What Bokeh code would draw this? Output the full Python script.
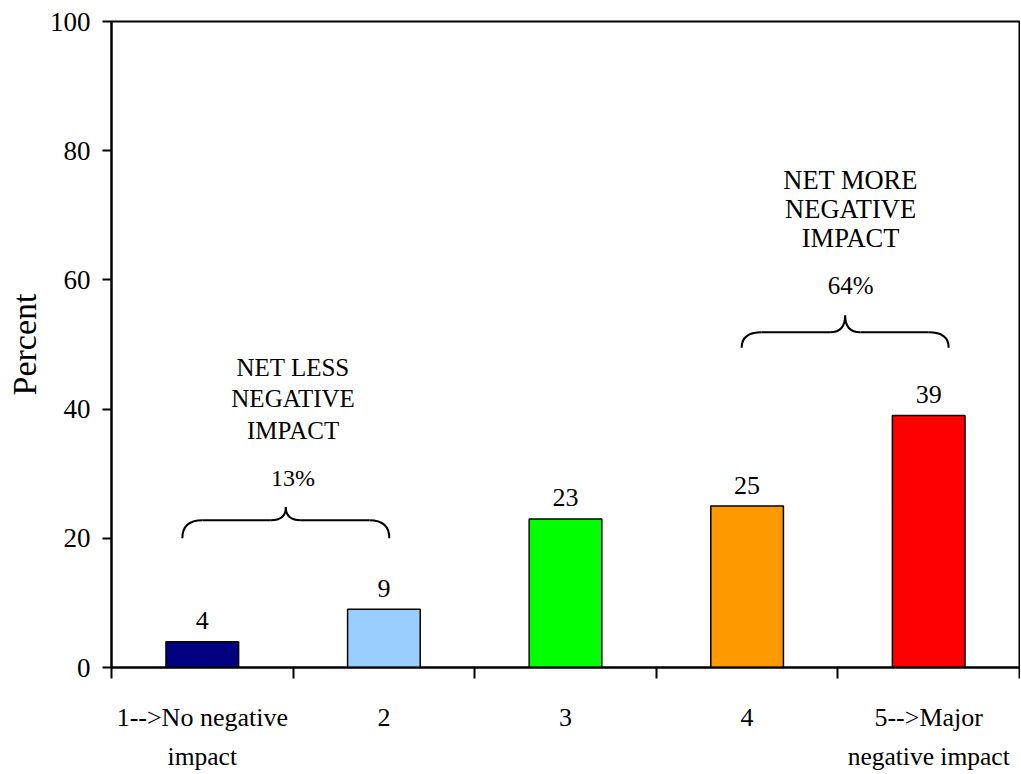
from bokeh.plotting import figure
from bokeh.models import Range1d, FixedTicker, LinearAxis, ColumnDataSource
from bokeh.embed import file_html
from bokeh.resources import INLINE
from bokeh.core.properties import value

# ---------------- data ----------------
categories = ["1-->No negative impact", "2", "3", "4", "5-->Major negative impact"]
label_line1 = ["1-->No negative", "2", "3", "4", "5-->Major"]
label_line2 = ["impact", "", "", "", "negative impact"]
percents = [4, 9, 23, 25, 39]
colors = ["#000080", "#99CCFF", "#00FF00", "#FF9900", "#FF0000"]
y_ticks = [0, 20, 40, 60, 80, 100]
group_titles = ["NET LESS\nNEGATIVE\nIMPACT", "NET MORE\nNEGATIVE\nIMPACT"]
group_totals = ["13%", "64%"]

FONT = value("Liberation Serif")

n = len(categories)
centers = [i + 0.5 for i in range(n)]
bounds = [float(i) for i in range(n + 1)]

src = ColumnDataSource(dict(x=centers, top=percents, color=colors,
                            lab=[str(v) for v in percents]))

p = figure(width=1020, height=773, output_backend="svg", toolbar_location=None,
           x_range=Range1d(0, n), y_range=Range1d(0, 100),
           min_border_left=111, min_border_right=1, min_border_top=21,
           min_border_bottom=0)
p.background_fill_color = "white"
p.border_fill_color = "white"
p.outline_line_color = "black"
p.outline_line_width = 2
p.xgrid.visible = False
p.ygrid.visible = False

# bars
p.vbar(x="x", top="top", bottom=0, width=0.4, fill_color="color",
       line_color="black", line_width=1.5, source=src)
p.text(x="x", y="top", text="lab", source=src, text_align="center",
       text_baseline="alphabetic", y_offset=-21, text_font=FONT,
       text_font_size="26px", text_color="black")

# y axis
ya = p.yaxis[0]
ya.ticker = FixedTicker(ticks=y_ticks, minor_ticks=[])
ya.major_tick_out = 9
ya.major_tick_in = 0
ya.minor_tick_out = 0
ya.minor_tick_in = 0
ya.axis_line_width = 2
ya.axis_line_color = "black"
ya.major_tick_line_width = 2
ya.major_tick_line_color = "black"
ya.major_label_standoff = 12
ya.major_label_text_font = "Liberation Serif"
ya.major_label_text_font_size = "27px"
ya.major_label_text_color = "black"
ya.axis_label = "Percent"
ya.axis_label_text_font = "Liberation Serif"
ya.axis_label_text_font_style = "normal"
ya.axis_label_text_font_size = "34px"
ya.axis_label_text_color = "black"
ya.axis_label_standoff = 4

# x axis (first label line + boundary ticks)
xa = p.xaxis[0]
xa.ticker = FixedTicker(ticks=centers, minor_ticks=bounds)
xa.major_tick_out = 0
xa.major_tick_in = 0
xa.minor_tick_out = 11
xa.minor_tick_in = 0
xa.minor_tick_line_width = 2
xa.minor_tick_line_color = "black"
xa.axis_line_width = 2
xa.axis_line_color = "black"
xa.major_label_overrides = {c: t for c, t in zip(centers, label_line1)}
xa.major_label_standoff = 24
xa.major_label_text_font = "Liberation Serif"
xa.major_label_text_font_size = "26px"
xa.major_label_text_color = "black"

# second label line
xa2 = LinearAxis(ticker=FixedTicker(ticks=centers, minor_ticks=[]))
xa2.axis_line_color = None
xa2.major_tick_line_color = None
xa2.minor_tick_line_color = None
xa2.major_tick_out = 0
xa2.major_tick_in = 0
xa2.minor_tick_out = 0
xa2.minor_tick_in = 0
xa2.major_label_overrides = {c: t for c, t in zip(centers, label_line2)}
xa2.major_label_standoff = 7
xa2.major_label_text_font = "Liberation Serif"
xa2.major_label_text_font_size = "25.5px"
xa2.major_label_text_color = "black"
p.add_layout(xa2, "below")

# ---------------- group braces & notes (annotation geometry) ----------------
brace_specs = [
    dict(x0=0.39, x1=1.53, xm=0.96, y_end=20.0, y_h=22.8, y_tip=24.8, xt=1.0,
         size="25px", psize="24px", offs=[-140, -109, -77], poff=-29.5),
    dict(x0=3.47, x1=4.61, xm=4.04, y_end=49.5, y_h=51.9, y_tip=54.5, xt=4.07,
         size="26.5px", psize="25px", offs=[-135, -106, -77], poff=-30),
]
rx, rxi = 0.11, 0.083
for spec, title, total in zip(brace_specs, group_titles, group_totals):
    x0, x1, xm = spec["x0"], spec["x1"], spec["xm"]
    ye, yh, yt = spec["y_end"], spec["y_h"], spec["y_tip"]
    kw = dict(line_color="black", line_width=2)
    p.quadratic(x0=[x0, x1, xm - rxi, xm + rxi], y0=[ye, ye, yh, yh],
                x1=[x0 + rx, x1 - rx, xm, xm], y1=[yh, yh, yt, yt],
                cx=[x0, x1, xm, xm], cy=[yh, yh, yh, yh], **kw)
    p.segment(x0=[x0 + rx, xm + rxi], y0=[yh, yh],
              x1=[xm - rxi, x1 - rx], y1=[yh, yh], **kw)
    tkw = dict(text_align="center", text_baseline="alphabetic", text_font=FONT,
               text_color="black")
    p.text(x=[spec["xt"]], y=[yt], text=[total], y_offset=spec["poff"],
           text_font_size=spec["psize"], **tkw)
    lines = title.split("\n")
    for line, off in zip(lines, spec["offs"]):
        p.text(x=[spec["xt"]], y=[yt], text=[line], y_offset=off,
               text_font_size=spec["size"], **tkw)

open("out.html", "w").write(file_html(p, INLINE))
